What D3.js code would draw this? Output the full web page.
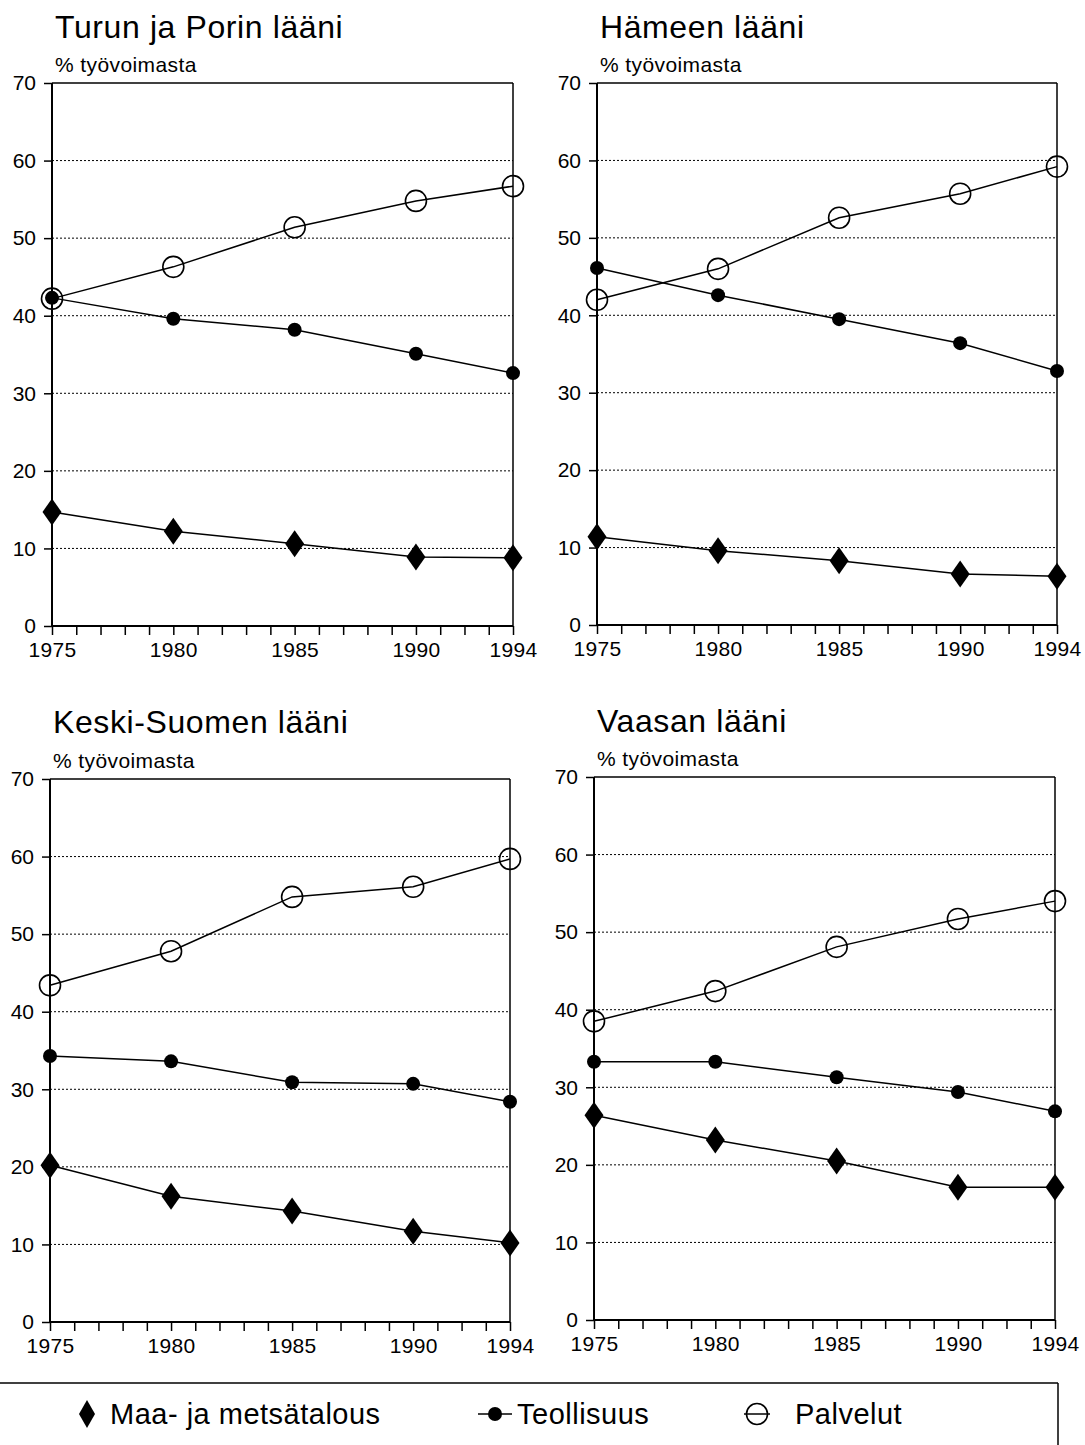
<!DOCTYPE html>
<html>
<head>
<meta charset="utf-8">
<script src="https://cdn.jsdelivr.net/npm/d3@7"></script>
<style>
  html, body { margin: 0; padding: 0; background: #fff; }
  svg { display: block; font-family: "Liberation Sans", Arial, sans-serif; }
</style>
</head>
<body>
<svg id="chart" width="1085" height="1445"></svg>
<script>
// ---- data ----
const years = [1975, 1980, 1985, 1990, 1994];
const regions = ["Turun ja Porin lääni", "Hämeen lääni", "Keski-Suomen lääni", "Vaasan lääni"];
const seriesNames = ["Maa- ja metsätalous", "Teollisuus", "Palvelut"];
const yTicks = [0, 10, 20, 30, 40, 50, 60, 70];
const yLabel = "% työvoimasta";

const maaTurku   = [14.7, 12.2, 10.6, 8.9, 8.8];
const teolTurku  = [42.3, 39.6, 38.2, 35.1, 32.6];
const palvTurku  = [42.2, 46.3, 51.4, 54.8, 56.7];

const maaHame    = [11.4, 9.6, 8.3, 6.6, 6.3];
const teolHame   = [46.1, 42.6, 39.5, 36.4, 32.8];
const palvHame   = [42.0, 46.0, 52.6, 55.7, 59.2];

const maaKeski   = [20.2, 16.2, 14.3, 11.7, 10.2];
const teolKeski  = [34.3, 33.6, 30.9, 30.7, 28.4];
const palvKeski  = [43.4, 47.8, 54.8, 56.1, 59.7];

const maaVaasa   = [26.4, 23.2, 20.5, 17.1, 17.1];
const teolVaasa  = [33.3, 33.3, 31.3, 29.4, 26.9];
const palvVaasa  = [38.5, 42.4, 48.1, 51.7, 54.0];

const panelData = [
  [maaTurku, teolTurku, palvTurku],
  [maaHame, teolHame, palvHame],
  [maaKeski, teolKeski, palvKeski],
  [maaVaasa, teolVaasa, palvVaasa]
];

// ---- layout ----
const layout = [
  {left: 52, right: 513, top: 83, bottom: 626, titleY: 38, subY: 72},
  {left: 597, right: 1057, top: 83, bottom: 625, titleY: 38, subY: 72},
  {left: 50, right: 510, top: 779, bottom: 1322, titleY: 733, subY: 768},
  {left: 594, right: 1055, top: 777, bottom: 1320, titleY: 732, subY: 766}
];

const svg = d3.select("#chart");

function diamondPath(w, h) {
  return `M0,${-h/2} L${w/2},0 L0,${h/2} L${-w/2},0 Z`;
}

function drawMarker(g, type, cx, cy, legend) {
  if (type === 0) {
    g.append("path").attr("d", legend ? diamondPath(16, 28) : diamondPath(19, 27))
      .attr("transform", `translate(${cx},${cy})`).attr("fill", "#000");
  } else if (type === 1) {
    g.append("circle").attr("cx", cx).attr("cy", cy).attr("r", 7).attr("fill", "#000");
  } else {
    g.append("circle").attr("cx", cx).attr("cy", cy).attr("r", 10.5)
      .attr("fill", "none").attr("stroke", "#000").attr("stroke-width", 1.6);
  }
}

layout.forEach((L, i) => {
  const g = svg.append("g");
  const x = d3.scaleLinear().domain([1975, 1994]).range([L.left, L.right]);
  const y = d3.scaleLinear().domain([0, 70]).range([L.bottom, L.top]);

  // title
  g.append("text").attr("x", L.left + 3).attr("y", L.titleY)
    .attr("font-size", 32).attr("letter-spacing", 0.6).attr("fill", "#000").text(regions[i]);
  g.append("text").attr("x", L.left + 3).attr("y", L.subY)
    .attr("font-size", 21).attr("letter-spacing", 0.4).attr("fill", "#000").text(yLabel);

  // gridlines
  g.selectAll(".grid").data(yTicks.filter(t => t > 0 && t < 70)).enter()
    .append("line")
    .attr("x1", L.left).attr("x2", L.right)
    .attr("y1", d => y(d)).attr("y2", d => y(d))
    .attr("stroke", "#000").attr("stroke-width", 1)
    .attr("stroke-dasharray", "2,2");

  // frame top & right
  g.append("line").attr("x1", L.left).attr("x2", L.right)
    .attr("y1", y(70)).attr("y2", y(70)).attr("stroke", "#000").attr("stroke-width", 1.5);
  g.append("line").attr("x1", L.right).attr("x2", L.right)
    .attr("y1", y(70)).attr("y2", y(0)).attr("stroke", "#000").attr("stroke-width", 1.5);

  // y axis
  const yAxis = d3.axisLeft(y).tickValues(yTicks).tickSize(8).tickPadding(8).tickFormat(d3.format("d"));
  const ya = g.append("g").attr("transform", `translate(${L.left},0)`).call(yAxis);
  ya.select(".domain").attr("stroke-width", 2).attr("d", `M0,${y(0)}V${y(70)}`);
  ya.selectAll(".tick line").attr("stroke-width", 1.5);
  ya.selectAll(".tick text").attr("font-size", 21).attr("font-family", "Liberation Sans, Arial, sans-serif").attr("fill", "#000");

  // x axis
  const allYears = d3.range(1975, 1995);
  const xAxis = d3.axisBottom(x).tickValues(allYears).tickSize(9).tickPadding(7)
    .tickFormat(d => years.includes(d) ? d : "");
  const xa = g.append("g").attr("transform", `translate(0,${L.bottom})`).call(xAxis);
  xa.select(".domain").attr("stroke-width", 2).attr("d", `M${x(1975)},0H${x(1994)}`);
  xa.selectAll(".tick line").attr("stroke-width", 1.5);
  xa.selectAll(".tick text").attr("font-size", 21).attr("letter-spacing", 0.3).attr("font-family", "Liberation Sans, Arial, sans-serif").attr("fill", "#000");

  // lines and markers
  const line = d3.line().x((d, j) => x(years[j])).y(d => y(d));
  panelData[i].forEach((vals, s) => {
    g.append("path").datum(vals).attr("d", line)
      .attr("fill", "none").attr("stroke", "#000").attr("stroke-width", 1.5);
  });
  panelData[i].forEach((vals, s) => {
    vals.forEach((v, j) => drawMarker(g, s, x(years[j]), y(v), false));
  });
});

// legend
const lg = svg.append("g");
lg.append("line").attr("x1", 0).attr("x2", 1058).attr("y1", 1383).attr("y2", 1383)
  .attr("stroke", "#000").attr("stroke-width", 1.5);
lg.append("line").attr("x1", 1058).attr("x2", 1058).attr("y1", 1383).attr("y2", 1445)
  .attr("stroke", "#000").attr("stroke-width", 1.5);

const legY = 1414;
const legItems = [
  {marker: 0, mx: 87, tx: 110},
  {marker: 1, mx: 495, tx: 517},
  {marker: 2, mx: 757, tx: 795}
];
legItems.forEach((it, k) => {
  if (it.marker === 1) {
    lg.append("line").attr("x1", it.mx - 17).attr("x2", it.mx + 17)
      .attr("y1", legY).attr("y2", legY).attr("stroke", "#000").attr("stroke-width", 1.5);
  }
  if (it.marker === 2) {
    lg.append("line").attr("x1", it.mx - 13).attr("x2", it.mx + 13)
      .attr("y1", legY).attr("y2", legY).attr("stroke", "#000").attr("stroke-width", 1.5);
  }
  drawMarker(lg, it.marker, it.mx, legY, true);
  lg.append("text").attr("x", it.tx).attr("y", legY + 10)
    .attr("font-size", 29).attr("letter-spacing", 0.5).attr("fill", "#000").text(seriesNames[k]);
});
</script>
</body>
</html>
